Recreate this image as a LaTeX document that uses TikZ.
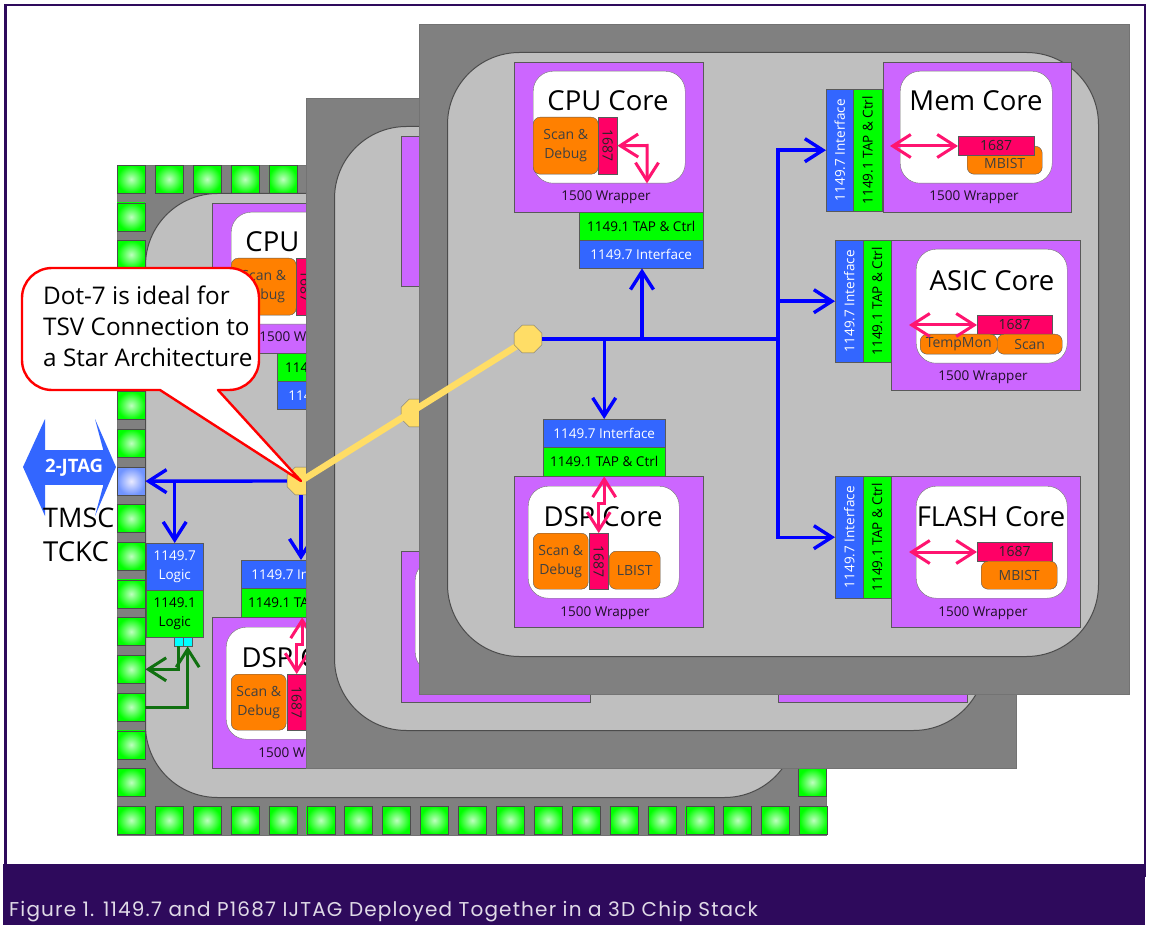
\documentclass[tikz,border=0pt]{standalone}
\usepackage{fontspec}
\setmainfont{Open Sans}
\newfontfamily\capfont[LetterSpace=5.8]{Poppins}
\usepackage{tikz}
\usetikzlibrary{positioning,arrows.meta,shapes.geometric}
\definecolor{framepurple}{HTML}{2E0A5C}
\definecolor{diegray}{HTML}{808080}
\definecolor{coregray}{HTML}{BFBFBF}
\definecolor{wrappurple}{HTML}{CC66FF}
\definecolor{scanorange}{HTML}{FF8000}
\definecolor{ieeepink}{HTML}{FF0066}
\definecolor{tapgreen}{HTML}{00FF00}
\definecolor{ifaceblue}{HTML}{3366FF}
\definecolor{arrowpink}{HTML}{FF1470}
\definecolor{dotyellow}{HTML}{FFDD66}
\definecolor{wiregreen}{HTML}{107010}
\definecolor{portcyan}{HTML}{00FFFF}
\tikzset{sized/.style 2 args={minimum width=#1,minimum height=#2,anchor=north west,inner sep=0pt,align=center}}
\tikzstyle{diebox}    = [rectangle, draw=diegray!90!black, fill=diegray]
\tikzstyle{diecore}   = [rectangle, rounded corners=72, draw=black!70, line width=1pt, fill=coregray]
\tikzstyle{wrapbox}   = [rectangle, draw=black!65, fill=wrappurple]
\tikzstyle{whitebox}  = [rectangle, rounded corners=20, draw=black!55, fill=white]
\tikzstyle{scanbox}   = [rectangle, rounded corners=7, draw=black!65, fill=scanorange, font=\fontsize{14}{19}\selectfont, text=black!75]
\tikzstyle{ieeebox}   = [rectangle, draw=black!65, fill=ieeepink, font=\fontsize{14}{16}\selectfont, text=black!85]
\tikzstyle{tapbox}    = [rectangle, draw=black!65, fill=tapgreen, font=\fontsize{13.5}{19}\selectfont]
\tikzstyle{ifacebox}  = [rectangle, draw=black!65, fill=ifaceblue, text=white, font=\fontsize{13.5}{19}\selectfont]
\tikzstyle{coretitle} = [font=\fontsize{27.5}{30}\selectfont, inner sep=0pt, yshift=-1pt]
\tikzstyle{wraplabel} = [font=\fontsize{13.5}{16}\selectfont, text=black!85!wrappurple, inner sep=0pt, yshift=-1.5pt]
\tikzstyle{padbox}    = [rectangle, draw=black!70, minimum size=28pt, inner sep=0pt, anchor=north west, inner color=white!75!tapgreen, outer color=tapgreen]
\tikzstyle{jtagpad}   = [rectangle, draw=black!70, minimum size=28pt, inner sep=0pt, anchor=north west, inner color=blue!8, outer color=ifaceblue!70]
\tikzstyle{dotnode}   = [regular polygon, regular polygon sides=8, draw=black!55, fill=dotyellow, minimum size=30pt, inner sep=0pt]
\tikzstyle{busline}   = [draw, line width=3.4pt, blue, -{Straight Barb[length=18pt,width=23pt]}]
\tikzstyle{busplain}  = [draw, line width=3.4pt, blue]
\tikzstyle{pinkline}  = [draw, line width=3pt, arrowpink, {Straight Barb[length=18pt,width=23pt]}-{Straight Barb[length=18pt,width=23pt]}]
\tikzstyle{greenline} = [draw, line width=3pt, wiregreen, -{Straight Barb[length=18pt,width=23pt]}]
\newcommand{\cpucore}{
  \node[wrapbox, sized={189}{150}] (cpuwrap) at (514,62) {};
  \node[whitebox, sized={152}{112}] (cpuwhite) at (533,71) {};
  \node[coretitle] (cputitle) at (608,100) {CPU Core};
  \node[scanbox, sized={65}{57}] (cpuscan) at (533,117) {Scan \&\\Debug};
  \node[ieeebox, sized={19}{57}] (cpuieee) at (598,117) {\rotatebox{-90}{1687}};
  \node[wraplabel] (cpulabel) at (606,196) {1500 Wrapper};
  \node[tapbox, sized={124}{28}] (cputap) at (579,212) {1149.1 TAP \& Ctrl};
  \node[ifacebox, sized={124}{28}] (cpuiface) at (579,240) {1149.7 Interface};
  \coordinate (cpuelbow) at (647,145.5);
  \draw[pinkline] (cpuieee.east) -- (cpuelbow) -- (cpuelbow |- cpuwhite.south);
}
\newcommand{\dspcore}{
  \node[ifacebox, sized={122}{28}] (dspiface) at (543,419) {1149.7 Interface};
  \node[tapbox, sized={122}{29}] (dsptap) at (543,447) {1149.1 TAP \& Ctrl};
  \node[wrapbox, sized={189}{151}] (dspwrap) at (514,476) {};
  \node[whitebox, sized={151}{112}] (dspwhite) at (528,486) {};
  \node[coretitle] (dsptitle) at (603,516) {DSP Core};
  \node[scanbox, sized={55}{56}] (dspscan) at (533,533) {Scan \&\\Debug};
  \node[ieeebox, sized={19}{56}] (dspieee) at (589,533) {\rotatebox{-90}{1687}};
  \node[scanbox, sized={51}{38}] (dspbist) at (609,551) {LBIST};
  \node[wraplabel] (dsplabel) at (605,612) {1500 Wrapper};
  \draw[pinkline] (dsptap.south) -- ++(0,27) -| (dspieee.north);
}
\begin{document}
\begin{tikzpicture}[x=1pt, y=-1pt]
	\useasboundingbox (0,0) rectangle (1149,925);
	\node[rectangle, draw=framepurple, line width=2.5pt, sized={1139.5}{870}] (frame) at (4,4) {};
	\node[rectangle, fill=framepurple, sized={1142}{61}] (footer) at (3,864) {};
	\node[anchor=west, inner sep=0pt, text=white!85!framepurple, font=\capfont\fontsize{20}{22}\selectfont] (caption) at (9,912) {Figure 1. 1149.7 and P1687 IJTAG Deployed Together in a 3D Chip Stack};

	% lowest die with its pads
	\node[diebox, sized={709}{670}] (lowdie) at (117,165) {};
	\foreach \k in {0,...,4}{
		\pgfmathsetmacro{\px}{117+\k*37.9}
		\node[padbox] (padt-\k) at (\px,165) {};
	}
	\foreach \k in {1,...,7,9,10,...,16}{
		\pgfmathsetmacro{\py}{165+\k*37.7}
		\node[padbox] (padl-\k) at (117,\py) {};
	}
	\foreach \k in {0,...,18}{
		\pgfmathsetmacro{\px}{117+\k*37.9}
		\node[padbox] (padb-\k) at (\px,806) {};
	}
	\node[padbox] (padr) at (798,768) {};
	\node[jtagpad] (padjtag) at (117,467) {};
	\node[diecore, sized={651}{604}] (lowcore) at (145,193) {};
	\begin{scope}[shift={(-302,141)}, name prefix=low-]
		\cpucore
		\dspcore
	\end{scope}
	\node[ifacebox, sized={57}{47}] (logicseven) at (146,543) {1149.7\\Logic};
	\node[tapbox, sized={57}{47}] (logicone) at (146,590) {1149.1\\Logic};
	\node[rectangle, draw=black!65, fill=portcyan, sized={9}{9}] (porta) at (174,637) {};
	\node[rectangle, draw=black!65, fill=portcyan, sized={9}{9}] (portb) at (183,637) {};
	\node[dotnode] (lowdot) at (301,481) {};
	\draw[busline] (lowdot.west) -- (padjtag.east);
	\coordinate (lowtap) at (logicseven.north |- padjtag.east);
	\draw[busline] (lowtap) -- (logicseven.north);
	\draw[busline] (lowdot.south) -- (lowdot.south |- low-dspiface.north);
	\draw[greenline] (porta.south) |- (padl-13.east);
	\draw[greenline] (padl-14.east) -| (portb.south);

	% middle die
	\node[diebox, sized={710}{670}] (middie) at (306,98) {};
	\node[diecore, sized={651}{604}] (midcore) at (334,126) {};
	\node[wrapbox, sized={189}{150}] (midcpu) at (401,136) {};
	\node[wrapbox, sized={189}{151}] (middsp) at (401,551) {};
	\node[whitebox, sized={151}{112}] (midwhite) at (415,560) {};
	\node[wrapbox, sized={189}{151}] (midflash) at (778,551) {};
	\node[dotnode] (middot) at (415,413) {};

	% top die
	\node[diebox, sized={709.5}{670}] (topdie) at (419,24) {};
	\node[diecore, sized={651}{604}] (topcore) at (447,52) {};
	\cpucore
	\dspcore
	% mem core
	\node[wrapbox, sized={188}{150}] (memwrap) at (883,62) {};
	\node[whitebox, sized={152}{112}] (memwhite) at (900,71) {};
	\node[coretitle] (memtitle) at (976,100) {Mem Core};
	\node[scanbox, sized={75}{28}] (membist) at (967,146) {\raisebox{-8pt}[0pt][0pt]{MBIST}};
	\node[ieeebox, sized={76}{19}] (memieee) at (958,136) {1687};
	\node[wraplabel] (memlabel) at (974,196) {1500 Wrapper};
	\node[ifacebox, sized={27}{122}] (memiface) at (826,89) {\rotatebox{90}{1149.7 Interface}};
	\node[tapbox, sized={29}{122}] (memtap) at (853,89) {\rotatebox{90}{1149.1 TAP \& Ctrl}};
	\coordinate (mempin) at (890,146);
	\draw[pinkline] (mempin) -- (memieee.west |- mempin);
	% asic core
	\node[wrapbox, sized={189}{150}] (asicwrap) at (891,240) {};
	\node[whitebox, sized={151}{114}] (asicwhite) at (916,249) {};
	\node[coretitle] (asictitle) at (992,280) {ASIC Core};
	\node[ieeebox, sized={75}{19}] (asicieee) at (977,315) {1687};
	\node[scanbox, sized={77}{20}] (asictemp) at (920,334) {TempMon};
	\node[scanbox, sized={65}{20}] (asicscan) at (997,334) {Scan};
	\node[wraplabel] (asiclabel) at (983,376) {1500 Wrapper};
	\node[ifacebox, sized={28}{122}] (asiciface) at (835,240) {\rotatebox{90}{1149.7 Interface}};
	\node[tapbox, sized={28}{122}] (asictap) at (863,240) {\rotatebox{90}{1149.1 TAP \& Ctrl}};
	\coordinate (asicpin) at (909,325);
	\draw[pinkline] (asicpin) -- (asicieee.west |- asicpin);
	% flash core
	\node[wrapbox, sized={189}{151}] (flashwrap) at (891,476) {};
	\node[whitebox, sized={151}{112}] (flashwhite) at (916,486) {};
	\node[coretitle] (flashtitle) at (991,516) {FLASH Core};
	\node[ieeebox, sized={75}{19}] (flashieee) at (977,542) {1687};
	\node[scanbox, sized={76}{28}] (flashbist) at (981,561) {MBIST};
	\node[wraplabel] (flashlabel) at (983,612) {1500 Wrapper};
	\node[ifacebox, sized={28}{122}] (flashiface) at (835,476) {\rotatebox{90}{1149.7 Interface}};
	\node[tapbox, sized={28}{122}] (flashtap) at (863,476) {\rotatebox{90}{1149.1 TAP \& Ctrl}};
	\coordinate (flashpin) at (909,552);
	\draw[pinkline] (flashpin) -- (flashieee.west |- flashpin);

	% tsv link and star bus
	\coordinate (tsvend) at (528,339);
	\draw[line width=6.5pt, dotyellow] (tsvend) -- (lowdot.center);
	\node[dotnode] (topdot) at (tsvend) {};
	\coordinate (trunk) at (778,339);
	\coordinate (dspdrop) at (dspiface.north |- trunk);
	\coordinate (cpurise) at (642,339);
	\draw[busplain] (topdot) -- (trunk);
	\draw[busline] (dspdrop) -- (dspiface.north);
	\draw[busline] (cpurise) -- (cpurise |- cpuiface.south);
	\draw[busline] (trunk) |- (memiface.west);
	\coordinate (asicdrop) at (trunk |- asiciface.west);
	\draw[busline] (asicdrop) -- (asiciface.west);
	\draw[busline] (trunk) |- (flashiface.west);

	% note
	\draw[draw=red, line width=2.4pt, fill=white, line join=round] (160,390) [rounded corners=30] -- (22,390) -- (22,268) -- (259,268) -- (259,390) [sharp corners] -- (218,390) -- (lowdot.center) -- cycle;
	\node[anchor=west, align=left, inner sep=0pt, font=\fontsize{24.3}{31}\selectfont] (notetext) at (43,326) {Dot-7 is ideal for\\TSV Connection to\\a Star Architecture};

	% 2-jtag
	\node[inner sep=0pt, text=white, font=\bfseries\fontsize{18.5}{20}\selectfont, fill=ifaceblue, sized={50}{35}] (jtagbody) at (45,450) {2-JTAG};
	\fill[ifaceblue] (jtagbody.north west) -- (45,419) -- (23,467) -- (45,516) -- (jtagbody.south west) -- cycle;
	\fill[ifaceblue] (jtagbody.north east) -- (95,419) -- (116,467) -- (95,516) -- (jtagbody.south east) -- cycle;
	\node[anchor=west, inner sep=0pt, font=\fontsize{27}{30}\selectfont] (tmsc) at (43,518) {TMSC};
	\node[anchor=west, inner sep=0pt, font=\fontsize{27.5}{30}\selectfont] (tckc) at (43,552) {TCKC};
\end{tikzpicture}
\end{document}
